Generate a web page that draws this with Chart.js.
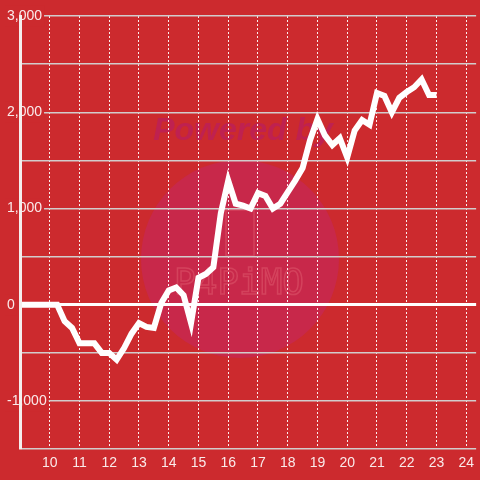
<!DOCTYPE html>
<html lang="en">
<head>
    <meta charset="UTF-8">
    <title>Balance chart</title>
    <style>
        html, body { margin: 0; padding: 0; background: #cc2a2e; }
        #wrap { width: 480px; height: 480px; }
    </style>
    <script src="https://cdn.jsdelivr.net/npm/chart.js"></script>
</head>
<body>
    <div id="wrap"><canvas id="chart" width="480" height="480"></canvas></div>

    <script>
        // hour of day, one reading every 15 minutes
        var hours = [9, 9.25, 9.5, 9.75, 10, 10.25, 10.5, 10.75, 11, 11.25, 11.5, 11.75,
                     12, 12.25, 12.5, 12.75, 13, 13.25, 13.5, 13.75, 14, 14.25, 14.5, 14.75,
                     15, 15.25, 15.5, 15.75, 16, 16.25, 16.5, 16.75, 17, 17.25, 17.5, 17.75,
                     18, 18.25, 18.5, 18.75, 19, 19.25, 19.5, 19.75, 20, 20.25, 20.5, 20.75,
                     21, 21.25, 21.5, 21.75, 22, 22.25, 22.5, 22.75, 23];

        // running balance at each reading
        var balance = [0, 0, 0, 0, 0, 0, -170, -240, -400, -400, -400, -500,
                       -500, -570, -450, -300, -190, -230, -240, 20, 150, 180, 100, -190,
                       280, 320, 390, 950, 1290, 1050, 1030, 1000, 1160, 1130, 1000, 1050,
                       1170, 1290, 1420, 1710, 1930, 1760, 1660, 1730, 1530, 1810, 1920, 1870,
                       2200, 2170, 2000, 2150, 2210, 2260, 2340, 2180, 2180];

        // axis ticks
        var hourTicks = [10, 11, 12, 13, 14, 15, 16, 17, 18, 19, 20, 21, 22, 23, 24];
        var balanceLabels = [-1000, 0, 1000, 2000, 3000];

        var bg = '#cc2a2e';
        var gridGray = '#d2cccc';
        var textColor = 'rgba(255,255,255,0.9)';

        // background + faint watermark behind the grid
        var watermark = {
            id: 'watermark',
            beforeDraw: function (chart) {
                var c = chart.ctx;
                c.save();
                c.fillStyle = bg;
                c.fillRect(0, 0, chart.width, chart.height);

                c.fillStyle = '#c8284a';
                c.beginPath();
                c.arc(240, 259, 99, 0, Math.PI * 2);
                c.fill();

                c.fillStyle = '#bf2150';
                c.font = 'italic bold 32px "Liberation Sans", Arial, sans-serif';
                c.textAlign = 'center';
                c.textBaseline = 'middle';
                c.fillText('Powered by', 243, 131);

                c.strokeStyle = 'rgba(255,160,160,0.22)';
                c.lineWidth = 1.5;
                c.beginPath();
                c.rect(226, 210, 28, 46);
                c.stroke();
                c.font = '36px "DejaVu Sans Mono", monospace';
                c.strokeText('P4PiMO', 239, 285);
                c.restore();
            }
        };

        var ctx = document.getElementById('chart').getContext('2d');
        var chart = new Chart(ctx, {
            type: 'line',
            data: {
                datasets: [{
                    data: hours.map(function (h, i) { return { x: h, y: balance[i] }; }),
                    borderColor: '#ffffff',
                    borderWidth: 6,
                    pointRadius: 0,
                    tension: 0,
                    fill: false
                }]
            },
            plugins: [watermark],
            options: {
                responsive: false,
                animation: false,
                layout: { padding: { left: 20, top: 16, right: 0, bottom: 2 } },
                plugins: {
                    legend: { display: false },
                    tooltip: { enabled: false }
                },
                scales: {
                    x: {
                        type: 'linear',
                        min: 9,
                        max: 24.3333,
                        afterBuildTicks: function (scale) {
                            scale.ticks = hourTicks.map(function (v) { return { value: v }; });
                        },
                        ticks: {
                            color: textColor,
                            font: { size: 14, family: '"Liberation Sans", Arial, sans-serif' },
                            padding: 6,
                            maxRotation: 0
                        },
                        grid: {
                            color: 'rgba(255,255,255,0.92)',
                            lineWidth: 1,
                            drawTicks: false
                        },
                        border: { display: false, dash: [2, 2] }
                    },
                    y: {
                        min: -1500,
                        max: 3000,
                        afterFit: function (scale) { scale.width = 0; },
                        ticks: {
                            stepSize: 500,
                            mirror: true,
                            padding: -13,
                            color: textColor,
                            font: { size: 14, family: '"Liberation Sans", Arial, sans-serif' },
                            callback: function (v) {
                                return balanceLabels.indexOf(v) >= 0 ? v.toLocaleString('en-US') : '';
                            },
                            showLabelBackdrop: function (c) {
                                return balanceLabels.indexOf(c.tick.value) >= 0;
                            },
                            backdropColor: bg,
                            backdropPadding: 2
                        },
                        grid: {
                            drawTicks: false,
                            color: function (c) { return c.tick.value === 0 ? '#ffffff' : gridGray; },
                            lineWidth: function (c) { return c.tick.value === 0 ? 3 : 1.5; }
                        },
                        border: { display: true, color: '#f4eeee', width: 3, z: 1 }
                    }
                }
            }
        });
    </script>
</body>
</html>
